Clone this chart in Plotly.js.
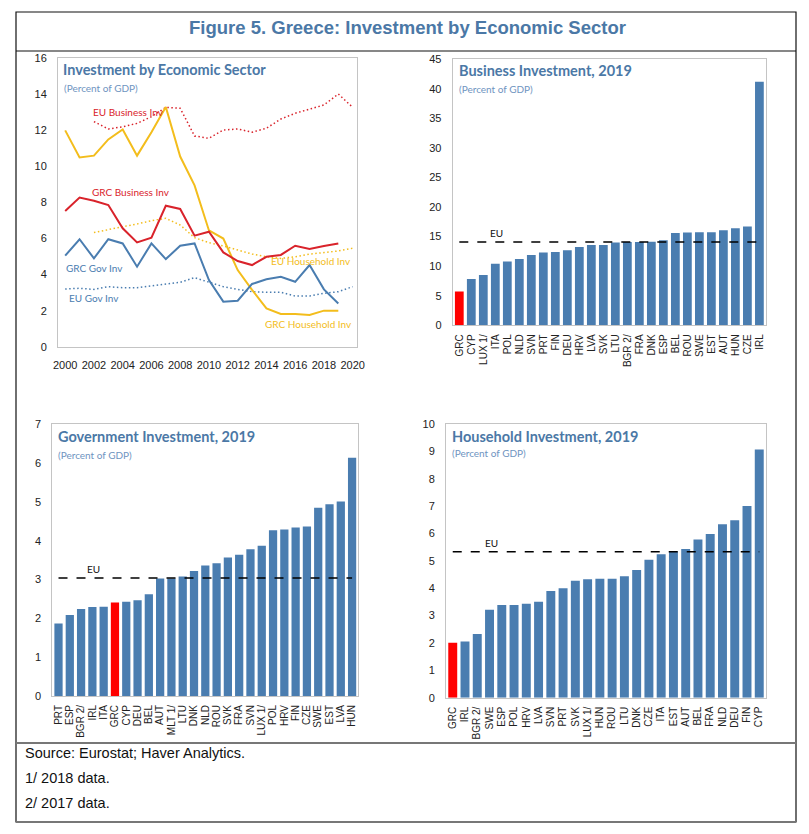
<!DOCTYPE html>
<html>
<head>
<meta charset="utf-8">
<script src="https://cdn.plot.ly/plotly-3.0.1.min.js"></script>
<style>html,body{margin:0;padding:0;background:#fff;}#chart{width:809px;height:834px;}</style>
</head>
<body>
<div id="chart"></div>
<script>
// ---------- Panel 1: time series ----------
const years = [2000,2001,2002,2003,2004,2005,2006,2007,2008,2009,2010,2011,2012,2013,2014,2015,2016,2017,2018,2019,2020];
const grcHousehold = [12.0,10.5,10.6,11.5,12.05,10.6,11.9,13.3,10.55,8.95,6.45,6.0,4.25,3.15,2.13,1.82,1.82,1.76,2.0,2.0,null];
const grcBusiness  = [7.53,8.27,8.1,7.86,6.57,5.79,6.05,7.82,7.64,6.16,6.38,5.23,4.75,4.53,4.99,5.09,5.6,5.42,5.59,5.73,null];
const grcGov       = [5.05,5.96,4.9,5.96,5.73,4.44,5.73,4.86,5.6,5.73,3.7,2.5,2.55,3.48,3.74,3.88,3.6,4.53,3.18,2.4,null];
const euBusiness   = [null,null,12.49,12.08,12.2,12.39,12.76,13.28,13.23,11.69,11.56,12.02,12.08,11.9,12.12,12.63,12.95,13.17,13.41,14.02,13.28];
const euHousehold  = [null,null,6.33,6.51,6.66,6.81,6.99,7.12,6.75,6.05,5.77,5.59,5.36,5.14,4.99,4.9,4.99,5.14,5.22,5.31,5.46];
const euGov        = [3.2,3.24,3.18,3.33,3.27,3.27,3.38,3.46,3.57,3.83,3.6,3.33,3.18,3.05,3.02,3.02,2.81,2.81,2.96,3.05,3.33];

// ---------- Panel 2: Business investment 2019 ----------
const busCountries = ["GRC","CYP","LUX 1/","ITA","POL","NLD","SVN","PRT","FIN","DEU","HRV","LVA","SVK","LTU","BGR 2/","FRA","DNK","ESP","BEL","ROU","SWE","EST","AUT","HUN","CZE","IRL"];
const busValues    = [5.7,7.84,8.5,10.4,10.8,11.2,11.9,12.3,12.4,12.7,13.25,13.6,13.6,14.0,14.1,14.1,14.15,14.4,15.6,15.7,15.75,15.75,16.1,16.4,16.7,41.2];
const busEU = 14.1;

// ---------- Panel 3: Government investment 2019 ----------
const govCountries = ["PRT","ESP","BGR 2/","IRL","ITA","GRC","CYP","DEU","BEL","AUT","MLT 1/","LTU","DNK","NLD","ROU","SVK","FRA","SVN","LUX 1/","POL","HRV","FIN","CZE","SWE","EST","LVA","HUN"];
const govValues    = [1.87,2.09,2.24,2.29,2.30,2.41,2.43,2.47,2.62,3.03,3.03,3.08,3.22,3.36,3.42,3.57,3.64,3.78,3.87,4.27,4.29,4.34,4.37,4.85,4.94,5.01,6.14];
const govEU = 3.04;

// ---------- Panel 4: Household investment 2019 ----------
const hhCountries = ["GRC","IRL","BGR 2/","SWE","ESP","POL","HRV","LVA","SVN","PRT","SVK","LUX 1/","HUN","ROU","LTU","DNK","CZE","ITA","EST","AUT","BEL","FRA","NLD","DEU","FIN","CYP"];
const hhValues    = [2.01,2.05,2.33,3.21,3.39,3.39,3.43,3.51,3.9,4.0,4.27,4.33,4.35,4.35,4.44,4.67,5.04,5.24,5.34,5.43,5.78,5.98,6.34,6.48,7.0,9.07];
const hhEU = 5.33;

// ---------- styling ----------
const W = 809, H = 834;
const px = v => v / W;
const py = v => 1 - v / H;
const BLUE = "#4a7db0", RED = "#ff0000";
const LRED = "#d9232b", LYEL = "#f3bd1c", LBLUE = "#4a7db0";
const TITLE_BLUE = "#4b78a6", SUB_BLUE = "#6f94bf";
const FRAME = "#c4c4c4";
const NARROW = "Liberation Sans Narrow, Liberation Sans, Arial, sans-serif";
const SANS = "Liberation Sans, Arial, sans-serif";
const PANEL_FONT = "Lato, Open Sans, sans-serif";

const traces = [];
function line(y, color, dotted, name) {
  traces.push({x: years, y: y, type: "scatter", mode: "lines", name: name,
    line: {color: color, width: dotted ? 1.5 : 2, dash: dotted ? "1.5px,2.5px" : "solid"},
    connectgaps: false, xaxis: "x", yaxis: "y", hoverinfo: "skip"});
}
line(euBusiness, LRED, true, "EU Business Inv");
line(euHousehold, LYEL, true, "EU Household Inv");
line(euGov, LBLUE, true, "EU Gov Inv");
line(grcHousehold, LYEL, false, "GRC Household Inv");
line(grcGov, LBLUE, false, "GRC Gov Inv");
line(grcBusiness, LRED, false, "GRC Business Inv");

function bars(cats, vals, eu, xa, ya) {
  traces.push({x: cats, y: vals, type: "bar", xaxis: xa, yaxis: ya,
    marker: {color: cats.map(c => c === "GRC" ? RED : BLUE)}, hoverinfo: "skip"});
  traces.push({x: [cats[0], cats[cats.length - 1]], y: [eu, eu], type: "scatter", mode: "lines",
    xaxis: xa, yaxis: ya, line: {color: "#000", width: 1.6, dash: "dash"}, hoverinfo: "skip"});
}
bars(busCountries, busValues, busEU, "x2", "y2");
bars(govCountries, govValues, govEU, "x3", "y3");
bars(hhCountries, hhValues, hhEU, "x4", "y4");

function yax(domain, range, dtick, anchor) {
  return {domain: domain, range: range, dtick: dtick, anchor: anchor, showgrid: false, zeroline: false,
    showline: true, mirror: true, linecolor: FRAME, linewidth: 1, ticks: "",
    tickfont: {family: NARROW, size: 11, color: "#222"}, ticklabelstandoff: 8, fixedrange: true};
}
function catax(domain, cats, anchor) {
  return {domain: domain, type: "category", range: [-0.55, cats.length - 0.45], anchor: anchor, showgrid: false,
    tickmode: "array", tickvals: cats, ticktext: cats,
    zeroline: false, showline: true, mirror: true, linecolor: FRAME, ticks: "", tickangle: -90,
    tickfont: {family: SANS, size: 10, color: "#222"}, ticklabelstandoff: 4, fixedrange: true};
}

const layout = {
  width: W, height: H, margin: {l: 0, r: 0, t: 0, b: 0}, showlegend: false,
  paper_bgcolor: "#fff", plot_bgcolor: "#fff", bargap: 0.27,
  xaxis: {domain: [px(58), px(357)], range: [1999.5, 2020.3], tickmode: "linear", tick0: 2000, dtick: 2,
    anchor: "y", showgrid: false, zeroline: false, showline: true, mirror: true, linecolor: FRAME, ticks: "",
    tickfont: {family: NARROW, size: 11, color: "#222"}, ticklabelstandoff: 8, fixedrange: true},
  yaxis: yax([py(346.7), py(58.3)], [0, 16], 2, "x"),
  xaxis2: catax([px(452.7), px(766)], busCountries, "y2"),
  yaxis2: yax([py(325.3), py(59.3)], [0, 45], 5, "x2"),
  xaxis3: catax([px(52.3), px(358.3)], govCountries, "y3"),
  yaxis3: yax([py(696), py(424.3)], [0, 7], 1, "x3"),
  xaxis4: catax([px(446), px(766)], hhCountries, "y4"),
  yaxis4: yax([py(697.7), py(424)], [0, 10], 1, "x4"),
  shapes: [
    {type: "rect", xref: "paper", yref: "paper", x0: px(16), x1: px(796), y0: py(822), y1: py(12), line: {color: "#111", width: 1.2}},
    {type: "line", xref: "paper", yref: "paper", x0: px(16), x1: px(796), y0: py(51), y1: py(51), line: {color: "#111", width: 1.2}},
    {type: "line", xref: "paper", yref: "paper", x0: px(16), x1: px(796), y0: py(743), y1: py(743), line: {color: "#777", width: 2}},
    {type: "line", xref: "paper", yref: "paper", x0: px(16), x1: px(796), y0: py(822), y1: py(822), line: {color: "#777", width: 2}}
  ],
  annotations: []
};

const A = layout.annotations;
function ptxt(text, x, y, opts) {
  A.push(Object.assign({text: text, xref: "paper", yref: "paper", x: px(x), y: py(y), showarrow: false,
    xanchor: "left", yanchor: "middle"}, opts));
}
// header & footer
ptxt("<b>Figure 5. Greece: Investment by Economic Sector</b>", 408, 27,
  {xanchor: "center", font: {family: SANS, size: 18.5, color: TITLE_BLUE}});
ptxt("Source: Eurostat; Haver Analytics.", 23, 753, {font: {family: SANS, size: 14.5, color: "#111"}});
ptxt("1/ 2018 data.", 23, 778, {font: {family: SANS, size: 14.5, color: "#111"}});
ptxt("2/ 2017 data.", 23, 803, {font: {family: SANS, size: 14.5, color: "#111"}});

// panel titles
function ptitle(t, x, y, sx, sy) {
  ptxt("<b>" + t + "</b>", x, y, {font: {family: PANEL_FONT, size: 14.5, color: TITLE_BLUE}});
  ptxt("(Percent of GDP)", sx, sy, {font: {family: PANEL_FONT, size: 10, color: SUB_BLUE}});
}
ptitle("Investment by Economic Sector", 61, 69.5, 62, 87.5);
ptitle("Business Investment, 2019", 457, 70.5, 457, 88.5);
ptitle("Government Investment, 2019", 56, 436, 56, 455);
ptitle("Household Investment, 2019", 450, 436, 450, 453.5);

// line labels (data coordinates)
function ltxt(text, x, y, color, anchor) {
  A.push({text: text, xref: "x", yref: "y", x: x, y: y, showarrow: false, xanchor: anchor, yanchor: "middle",
    font: {family: PANEL_FONT, size: 10, color: color}});
}
ltxt("EU Business Inv", 2001.8, 13.0, LRED, "left");
ltxt("GRC Business Inv", 2001.7, 8.6, LRED, "left");
ltxt("GRC Gov Inv", 1999.95, 4.35, LBLUE, "left");
ltxt("EU Gov Inv", 2000.1, 2.68, LBLUE, "left");
ltxt("EU Household Inv", 2020.05, 4.77, LYEL, "right");
ltxt("GRC Household Inv", 2020.1, 1.26, LYEL, "right");

// EU labels on bar charts
function eutxt(xa, ya, idx, y) {
  A.push({text: "EU", xref: xa, yref: ya, x: idx, y: y, showarrow: false, xanchor: "center", yanchor: "bottom",
    yshift: 1, font: {family: PANEL_FONT, size: 10, color: "#111"}});
}
eutxt("x2", "y2", 3.1, busEU);
eutxt("x3", "y3", 3.1, govEU);
eutxt("x4", "y4", 3.2, hhEU);

Plotly.newPlot("chart", traces, layout, {displayModeBar: false, staticPlot: true});
</script>
</body>
</html>
